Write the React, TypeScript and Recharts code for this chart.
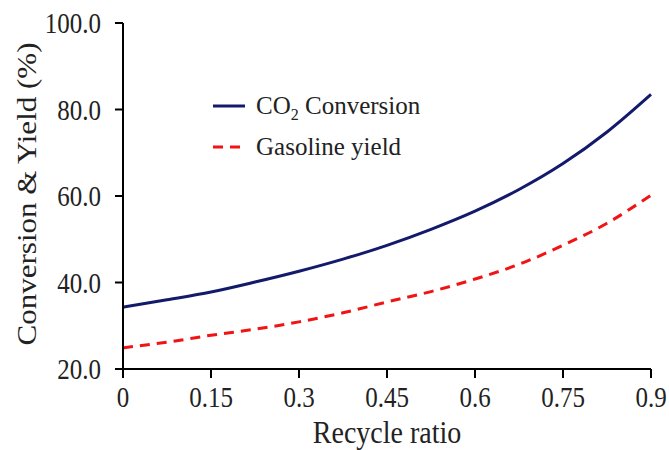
import { Line, LineChart, XAxis, YAxis } from 'recharts';

// Recycle ratio (x) and the two curves
const ratio = [0, 0.075, 0.15, 0.225, 0.3, 0.375, 0.45, 0.525, 0.6, 0.675, 0.75, 0.825, 0.9];
const co2Conversion = [34.3, 36.0, 37.8, 40.1, 42.6, 45.4, 48.6, 52.3, 56.5, 61.5, 67.5, 74.8, 83.5];
const gasolineYield = [24.9, 26.2, 27.8, 29.2, 30.9, 33.0, 35.5, 37.9, 40.8, 44.2, 48.6, 53.7, 60.2];
const xTicks = [0, 0.15, 0.3, 0.45, 0.6, 0.75, 0.9];
const yTicks = [20, 40, 60, 80, 100];

const FONT = '"Liberation Serif", "Times New Roman", serif';
const AZUL = '#141a6b';
const VERMELHO = '#f01414';
const TEXTO = '#222';
// o original tem o texto levemente esticado na vertical
const ESTICA = 1.15;

const dados = ratio.map((r, i) => ({ r, co2: co2Conversion[i], gas: gasolineYield[i] }));

function TickX({ x, y, payload }: any) {
  return (
    <text transform={`translate(${x},${y}) scale(1,${ESTICA})`} textAnchor="middle" dy="0.8em" fontFamily={FONT} fontSize={25} fill={TEXTO}>
      {payload.value}
    </text>
  );
}

function TickY({ x, y, payload }: any) {
  return (
    <text transform={`translate(${x},${y}) scale(1,${ESTICA})`} textAnchor="end" dy="0.35em" fontFamily={FONT} fontSize={25} fill={TEXTO}>
      {Number(payload.value).toFixed(1)}
    </text>
  );
}

function RotuloY({ viewBox }: any) {
  const cy = viewBox.y + viewBox.height / 2 - 2;
  return (
    <text transform={`translate(27,${cy}) scale(1,${ESTICA}) rotate(-90)`} textAnchor="middle" dy="0.35em" fontFamily={FONT} fontSize={27} fill={TEXTO}>
      Conversion &amp; Yield (%)
    </text>
  );
}

function RotuloX({ viewBox }: any) {
  const cx = viewBox.x + viewBox.width / 2;
  return (
    <text transform={`translate(${cx},432) scale(1,${ESTICA})`} textAnchor="middle" dy="0.35em" fontFamily={FONT} fontSize={28} fill={TEXTO}>
      Recycle ratio
    </text>
  );
}

// legenda fica sobreposta ao gráfico (no original ela está dentro da área de plotagem)
function Legenda() {
  return (
    <svg width={230} height={80} style={{ position: 'absolute', left: 210, top: 88 }}>
      <line x1={3} y1={18} x2={35} y2={18} stroke={AZUL} strokeWidth={3} />
      <text x={46} y={26} fontFamily={FONT} fontSize={25} fill={TEXTO}>
        CO<tspan fontSize={16} dy={6}>2</tspan>
        <tspan dy={-6}> Conversion</tspan>
      </text>
      <line x1={3} y1={59} x2={35} y2={59} stroke={VERMELHO} strokeWidth={3} strokeDasharray="10 7" />
      <text x={46} y={67} fontFamily={FONT} fontSize={25} fill={TEXTO}>
        Gasoline yield
      </text>
    </svg>
  );
}

export default function App() {
  return (
    <div style={{ position: 'absolute', left: 0, top: 0, width: 669, height: 450, background: '#fff' }}>
      <LineChart width={669} height={450} data={dados} margin={{ top: 23, right: 18, bottom: 0, left: 0 }}>
        <XAxis
          dataKey="r"
          type="number"
          domain={[0, 0.9]}
          ticks={xTicks}
          height={81}
          stroke="#000"
          strokeWidth={2}
          tickSize={9}
          tickMargin={6}
          tick={<TickX />}
          label={<RotuloX />}
        />
        <XAxis xAxisId="top" dataKey="r" type="number" domain={[0, 0.9]} orientation="top" height={0} tick={false} tickLine={false} stroke="#000" strokeWidth={2} />
        <YAxis
          domain={[20, 100]}
          ticks={yTicks}
          width={123}
          stroke="#000"
          strokeWidth={2}
          tickSize={8}
          tickMargin={14}
          tick={<TickY />}
          label={<RotuloY />}
        />
        <YAxis yAxisId="right" domain={[20, 100]} orientation="right" width={0} tick={false} tickLine={false} stroke="#000" strokeWidth={2} />
        <Line dataKey="co2" type="monotone" stroke={AZUL} strokeWidth={3} dot={false} isAnimationActive={false} />
        <Line dataKey="gas" type="monotone" stroke={VERMELHO} strokeWidth={3} strokeDasharray="10 7" dot={false} isAnimationActive={false} />
      </LineChart>
      <Legenda />
    </div>
  );
}
